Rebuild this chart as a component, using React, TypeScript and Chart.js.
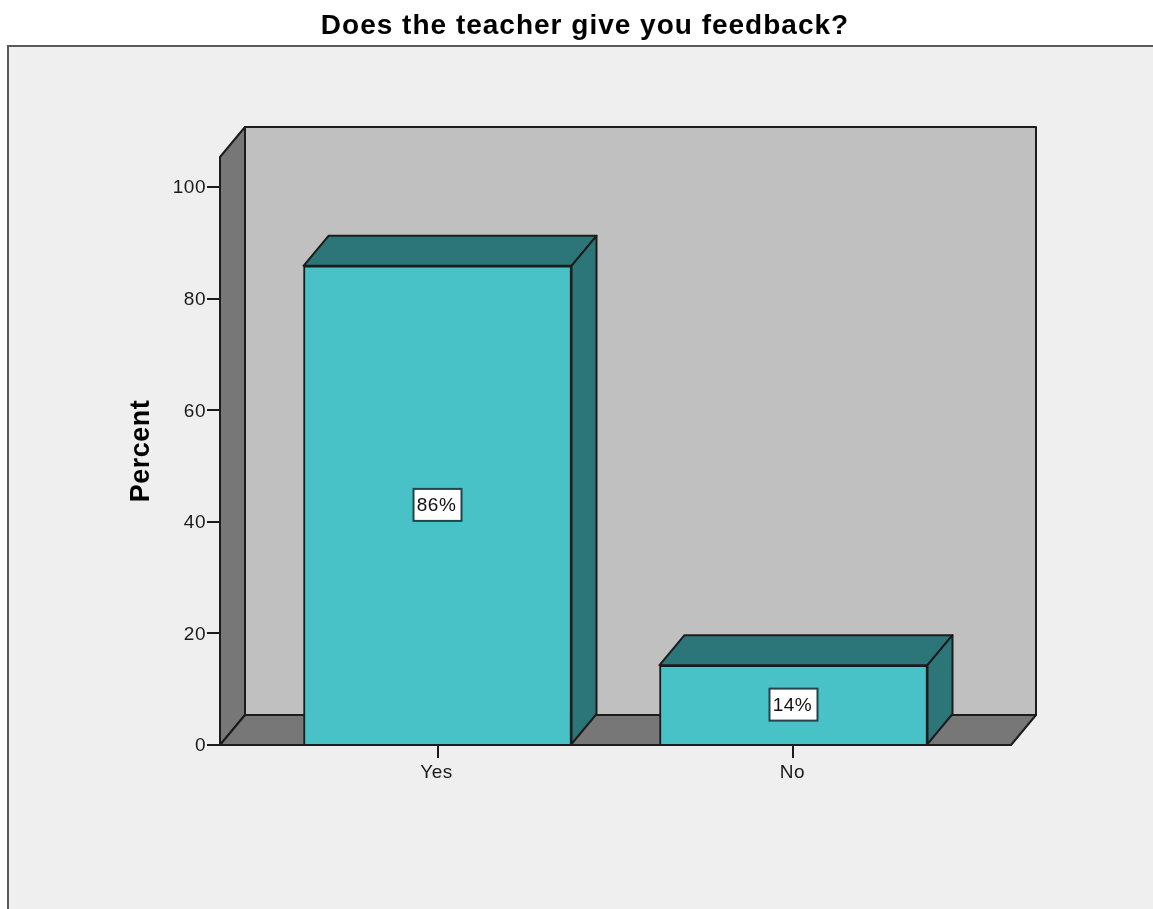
import React, { useEffect, useRef } from "react";
import { Chart, registerables } from "chart.js";

Chart.register(...registerables);

const categories = ["Yes", "No"];
const percents = [85.9, 14.3];
const yTickValues = [0, 20, 40, 60, 80, 100];
const titleText = "Does the teacher give you feedback?";
const yAxisTitle = "Percent";

const FONT = "'Liberation Sans', Arial, sans-serif";
const DEPTH_X = 25;
const DEPTH_Y = 30;
const LINE = "#1c1c1c";

function poly(ctx: CanvasRenderingContext2D, pts: number[][], fill: string) {
  ctx.beginPath();
  pts.forEach((p, i) => (i ? ctx.lineTo(p[0], p[1]) : ctx.moveTo(p[0], p[1])));
  ctx.closePath();
  ctx.fillStyle = fill;
  ctx.fill();
  ctx.lineWidth = 2;
  ctx.strokeStyle = LINE;
  ctx.lineJoin = "round";
  ctx.stroke();
}

const frame3d = {
  id: "frame3d",
  afterLayout(chart: any) {
    // title is centred on the panel, not on the whole canvas
    const block = chart.titleBlock;
    block.left = 0;
    block.right = 1170;
    if (!block.__spaced) {
      block.__spaced = true;
      const draw = block.draw;
      block.draw = function (...args: any[]) {
        const c: any = chart.ctx;
        c.save();
        c.letterSpacing = "1px";
        draw.apply(this, args);
        c.restore();
      };
    }
  },
  beforeDraw(chart: any) {
    const { ctx, chartArea: a, width, height } = chart;
    ctx.save();
    ctx.fillStyle = "#ffffff";
    ctx.fillRect(0, 0, width, height);
    ctx.fillStyle = "#efefef";
    ctx.fillRect(7, 45, width, height);
    ctx.strokeStyle = "#5a5a5a";
    ctx.lineWidth = 2;
    ctx.beginPath();
    ctx.moveTo(8, height + 2);
    ctx.lineTo(8, 46);
    ctx.lineTo(width + 2, 46);
    ctx.stroke();
    const bx = a.left + DEPTH_X;
    const rx = a.right + DEPTH_X;
    const ty = a.top - DEPTH_Y;
    const fy = a.bottom - DEPTH_Y;
    poly(ctx, [[bx, ty], [rx, ty], [rx, fy], [bx, fy]], "#c0c0c0");
    poly(ctx, [[a.left, a.top], [bx, ty], [bx, fy], [a.left, a.bottom]], "#777777");
    poly(ctx, [[a.left, a.bottom], [bx, fy], [rx, fy], [a.right, a.bottom]], "#777777");
    ctx.restore();
    ctx.letterSpacing = "0.5px";
  },
  beforeDatasetsDraw(chart: any) {
    const { ctx } = chart;
    ctx.save();
    chart.getDatasetMeta(0).data.forEach((bar: any) => {
      const l = bar.x - bar.width / 2;
      const r = bar.x + bar.width / 2;
      poly(ctx, [[l, bar.y], [l + DEPTH_X, bar.y - DEPTH_Y], [r + DEPTH_X, bar.y - DEPTH_Y], [r, bar.y]], "#2c7579");
      poly(ctx, [[r, bar.y], [r + DEPTH_X, bar.y - DEPTH_Y], [r + DEPTH_X, bar.base - DEPTH_Y], [r, bar.base]], "#2c7579");
    });
    ctx.restore();
  },
  afterDatasetsDraw(chart: any) {
    const { ctx, chartArea: a } = chart;
    ctx.save();
    ctx.strokeStyle = LINE;
    ctx.lineWidth = 2;
    ctx.beginPath();
    ctx.moveTo(a.left, a.bottom);
    ctx.lineTo(a.right, a.bottom);
    ctx.stroke();
    chart.getDatasetMeta(0).data.forEach((bar: any, i: number) => {
      const cx = bar.x;
      const cy = (bar.y + bar.base) / 2;
      const label = Math.round(percents[i]) + "%";
      ctx.fillStyle = "#ffffff";
      ctx.fillRect(cx - 24, cy - 16, 48, 32);
      ctx.strokeStyle = "#23444a";
      ctx.lineWidth = 2;
      ctx.strokeRect(cx - 24, cy - 16, 48, 32);
      ctx.fillStyle = "#111111";
      ctx.font = `19px ${FONT}`;
      ctx.textAlign = "center";
      ctx.textBaseline = "middle";
      ctx.fillText(label, cx - 1, cy + 1);
    });
    ctx.restore();
  },
};

export default function App() {
  const ref = useRef<HTMLCanvasElement>(null);
  useEffect(() => {
    const chart = new Chart(ref.current as HTMLCanvasElement, {
      type: "bar",
      data: {
        datasets: [
          {
            data: percents.map((y, x) => ({ x, y })),
            backgroundColor: "#48c2c7",
            borderColor: LINE,
            borderWidth: 2,
            barThickness: 268,
          },
        ],
      },
      plugins: [frame3d],
      options: {
        animation: false,
        responsive: false,
        layout: { padding: { left: 0, right: 142, top: 0, bottom: 0 } },
        plugins: {
          legend: { display: false },
          tooltip: { enabled: false },
          title: {
            display: true,
            text: titleText,
            color: "#000000",
            font: { family: FONT, size: 28, weight: "bold", lineHeight: 1 },
            padding: { top: 12, bottom: 117 },
          },
        },
        scales: {
          x: {
            type: "linear",
            offset: false,
            min: -0.611,
            max: 1.611,
            afterBuildTicks: (s: any) => {
              s.ticks = categories.map((_, value) => ({ value }));
            },
            afterFit: (s: any) => {
              s.height = 164;
            },
            grid: { offset: false, drawOnChartArea: false, drawTicks: true, tickLength: 13, color: LINE, lineWidth: 2 },
            border: { display: false },
            ticks: {
              autoSkip: false,
              maxRotation: 0,
              padding: 3,
              labelOffset: -1,
              color: "#1a1a1a",
              font: { family: FONT, size: 19 },
              callback: (v: any) => categories[v],
            },
          },
          y: {
            min: 0,
            max: 105.4,
            afterBuildTicks: (s: any) => {
              s.ticks = yTickValues.map((value) => ({ value }));
            },
            afterFit: (s: any) => {
              s.width = 220;
            },
            grid: { drawOnChartArea: false, drawTicks: true, tickLength: 13, color: LINE, lineWidth: 2 },
            border: { display: false },
            ticks: { padding: 1, labelOffset: 1, color: "#1a1a1a", font: { family: FONT, size: 19 } },
            title: {
              display: true,
              text: yAxisTitle,
              color: "#000000",
              font: { family: FONT, size: 27, weight: "bold", lineHeight: 1 },
              padding: { top: 128, bottom: 0 },
            },
          },
        },
      },
    } as any);
    return () => chart.destroy();
  }, []);
  return (
    <canvas
      ref={ref}
      width={1153}
      height={909}
      style={{ position: "absolute", left: 0, top: 0, display: "block", filter: "blur(0.5px)" }}
    />
  );
}
